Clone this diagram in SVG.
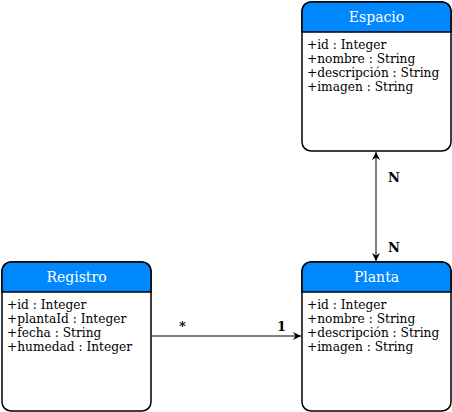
<svg xmlns="http://www.w3.org/2000/svg" width="452" height="412" viewBox="0 0 452 412">
<style>
.box{fill:#ffffff;stroke:#000000;stroke-width:1.5}
.hdr{fill:#0088ff;stroke:#000000;stroke-width:1.5}
.ht{font-family:"DejaVu Serif",serif;font-size:14px;fill:#ffffff;text-anchor:middle}
.at{font-family:"DejaVu Serif",serif;font-size:12.2px;fill:#000000}
.lbl{font-family:"DejaVu Serif",serif;font-size:13px;fill:#000000;font-weight:bold}
.ln{stroke:#000000;stroke-width:1;fill:none}
</style>
<defs>
<marker id="arr" viewBox="0 0 10 10" refX="10" refY="5" markerWidth="8" markerHeight="8" markerUnits="userSpaceOnUse" orient="auto-start-reverse">
<path d="M0,0 L10,5 L0,10 L3,5 Z" fill="#000000"/>
</marker>
</defs>
<rect width="452" height="412" fill="#ffffff"/>
<g id="connectors">
<line class="ln" x1="376" y1="152" x2="376" y2="261" marker-start="url(#arr)" marker-end="url(#arr)"/>
<line class="ln" x1="152" y1="336" x2="301" y2="336" marker-end="url(#arr)"/>
<text class="lbl" x="388" y="182">N</text>
<text class="lbl" x="388" y="252">N</text>
<text class="lbl" x="179" y="331">*</text>
<text class="lbl" x="277" y="331">1</text>
</g>
<g id="espacio">
<rect class="box" x="302" y="2" width="149" height="149" rx="9"/>
<path class="hdr" d="M302,32 L302,11 A9,9 0 0 1 311,2 L442,2 A9,9 0 0 1 451,11 L451,32 Z"/>
<text class="ht" x="376.5" y="22">Espacio</text>
<text class="at" x="307" y="49">+id : Integer</text>
<text class="at" x="307" y="63">+nombre : String</text>
<text class="at" x="307" y="77">+descripción : String</text>
<text class="at" x="307" y="91">+imagen : String</text>
</g>
<g id="registro">
<rect class="box" x="2" y="262" width="149" height="149" rx="9"/>
<path class="hdr" d="M2,292 L2,271 A9,9 0 0 1 11,262 L142,262 A9,9 0 0 1 151,271 L151,292 Z"/>
<text class="ht" x="76.5" y="282">Registro</text>
<text class="at" x="7" y="309">+id : Integer</text>
<text class="at" x="7" y="323">+plantaId : Integer</text>
<text class="at" x="7" y="337">+fecha : String</text>
<text class="at" x="7" y="351">+humedad : Integer</text>
</g>
<g id="planta">
<rect class="box" x="302" y="262" width="149" height="149" rx="9"/>
<path class="hdr" d="M302,292 L302,271 A9,9 0 0 1 311,262 L442,262 A9,9 0 0 1 451,271 L451,292 Z"/>
<text class="ht" x="376.5" y="282">Planta</text>
<text class="at" x="307" y="309">+id : Integer</text>
<text class="at" x="307" y="323">+nombre : String</text>
<text class="at" x="307" y="337">+descripción : String</text>
<text class="at" x="307" y="351">+imagen : String</text>
</g>
</svg>
